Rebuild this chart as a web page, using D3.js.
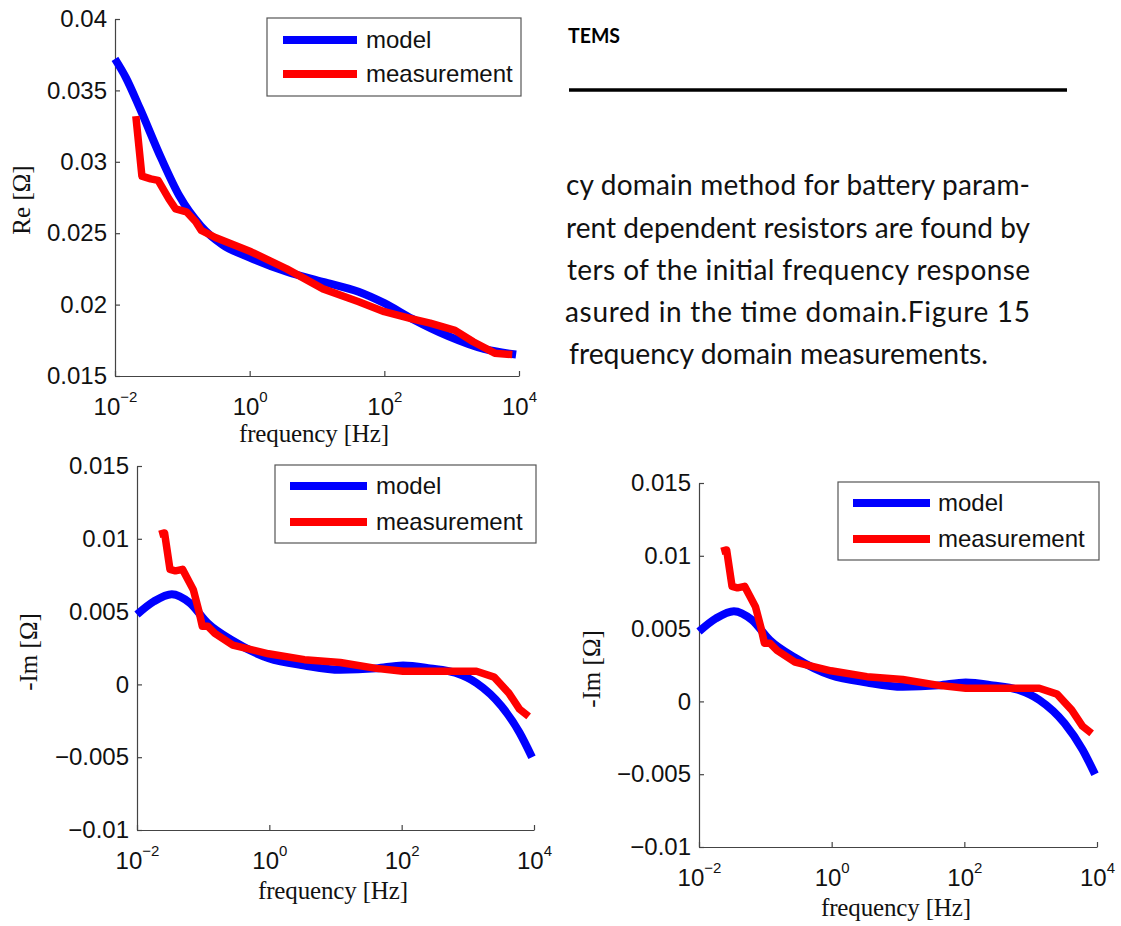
<!DOCTYPE html>
<html>
<head>
<meta charset="utf-8">
<script src="https://cdn.jsdelivr.net/npm/d3@7"></script>
<style>
  body { margin: 0; background: #fff; }
  .tick text { font-family: "Liberation Sans", Arial, sans-serif; fill: #111; }
  .ylab, .xlab { font-family: "Liberation Serif", "DejaVu Serif", serif; fill: #111; }
  .leg { font-family: "Liberation Sans", Arial, sans-serif; font-size: 24px; fill: #111; }
  .para { font-family: Lato, "Open Sans", sans-serif; font-size: 28px; fill: #111; }
</style>
</head>
<body>
<div id="chart"></div>
<script>
// DATA (frequency in Hz)
const reFreqModel = [0.01, 0.0145, 0.0236, 0.0491, 0.0906, 0.189, 0.394, 1.0, 3.57, 12.2, 41.4, 100, 260, 885, 3010, 9060]
const reModel     = [0.0372, 0.0359, 0.0337, 0.0302, 0.0276, 0.0255, 0.0242, 0.0233, 0.0223, 0.0216, 0.0209, 0.0201, 0.0190, 0.0178, 0.0169, 0.0165]
const reFreqMeas  = [0.0204, 0.0251, 0.0339, 0.0437, 0.0631, 0.0794, 0.115, 0.158, 0.191, 0.309, 1.05, 3.55, 12.3, 41.7, 100, 257, 479, 1122, 2089, 4365, 7943]
const reMeas      = [0.0332, 0.0290, 0.0288, 0.0287, 0.0274, 0.0267, 0.0265, 0.0258, 0.0252, 0.0247, 0.0237, 0.0225, 0.0211, 0.0202, 0.0195, 0.0190, 0.0187, 0.0182, 0.0174, 0.0166, 0.0165]

const imFreqModel = [0.01, 0.018, 0.0336, 0.0627, 0.117, 0.28, 0.975, 3.4, 11.8, 41.2, 105, 269, 645, 1350, 3240, 6030, 9330]
const imModel     = [0.0048, 0.0057, 0.0062, 0.0056, 0.0042, 0.0030, 0.0018, 0.0013, 0.0010, 0.0011, 0.0013, 0.0011, 0.0008, 0.0001, -0.0015, -0.0033, -0.0050]
const imFreqMeas  = [0.0217, 0.0261, 0.0315, 0.038, 0.0488, 0.071, 0.0855, 0.0969, 0.117, 0.15, 0.28, 0.975, 3.4, 11.8, 41.2, 105, 500, 1350, 2500, 4170, 6030, 8300]
const imMeas      = [0.0103, 0.0104, 0.0079, 0.0078, 0.0079, 0.0065, 0.0051, 0.0040, 0.0040, 0.0035, 0.0027, 0.0021, 0.0017, 0.0015, 0.0011, 0.0009, 0.0009, 0.0009, 0.0005, -0.0006, -0.0017, -0.0022]

const freqTicks  = [0.01, 1, 100, 10000]
const freqExp    = ['-2', '0', '2', '4']
const reTicks    = [0.015, 0.02, 0.025, 0.03, 0.035, 0.04]
const reTickText = ['0.015', '0.02', '0.025', '0.03', '0.035', '0.04']
const imTicks    = [-0.01, -0.005, 0, 0.005, 0.01, 0.015]
const imTickText = ['\u22120.01', '\u22120.005', '0', '0.005', '0.01', '0.015']
const seriesNames = ['model', 'measurement']
const seriesColours = ['#0000ff', '#ff0000']

const headingText = 'TEMS'
const paraLines = [
  'cy domain method for battery param-',
  'rent dependent resistors are found by',
  'ters of the initial frequency response',
  'asured in the time domain.Figure 15',
  'frequency domain measurements.'
]

const svg = d3.select('#chart').append('svg')
  .attr('width', 1121)
  .attr('height', 926)
  .style('display', 'block')
svg.append('rect').attr('width', 1121).attr('height', 926).attr('fill', '#fff')

// TEXT BLOCK (page behind the plots)
const page = svg.append('g')
page.append('text').text(headingText)
  .attr('x', 568).attr('y', 43)
  .attr('textLength', 52).attr('lengthAdjust', 'spacingAndGlyphs')
  .style('font-family', 'Lato, "Open Sans", sans-serif').style('font-weight', 'bold').style('font-size', '21px')
page.append('line').attr('x1', 569).attr('x2', 1067).attr('y1', 90).attr('y2', 90)
  .attr('stroke', '#000').attr('stroke-width', 3.5)
const paraX  = [566, 566, 567, 565, 569]
const paraX2 = [1030, 1030, 1030, 1030, 988]
const paraY  = [195, 238, 280, 322, 364]
paraLines.forEach((t, i) => {
  page.append('text').attr('class', 'para').text(t)
    .attr('x', paraX[i]).attr('y', paraY[i])
    .attr('textLength', paraX2[i] - paraX[i])
    .attr('lengthAdjust', i < 4 ? 'spacing' : 'spacingAndGlyphs')
})
svg.append('rect').attr('x', 0).attr('y', 85).attr('width', 2).attr('height', 12).attr('fill', '#111')

// PANELS
const PANELS = [
  { L: 115, R: 519, T: 19, B: 376, yDomain: [0.015, 0.04], ticks: reTicks, tickText: reTickText,
    ylabel: 'Re [\u03A9]', ylx: 30, yly: 200, xlx: 314, xly: 442,
    legend: { x0: 267, y0: 18, x1: 521, y1: 96, lx0: 283, lx1: 357, rows: [40, 74], tx: 366 },
    model: [reFreqModel, reModel], meas: [reFreqMeas, reMeas] },
  { L: 137, R: 534, T: 466, B: 830, yDomain: [-0.01, 0.015], ticks: imTicks, tickText: imTickText,
    ylabel: '-Im [\u03A9]', ylx: 37, yly: 652, xlx: 333, xly: 899,
    legend: { x0: 275, y0: 465, x1: 536, y1: 543, lx0: 290, lx1: 367, rows: [486, 522], tx: 376 },
    model: [imFreqModel, imModel], meas: [imFreqMeas, imMeas] },
  { L: 699, R: 1097, T: 483, B: 847, yDomain: [-0.01, 0.015], ticks: imTicks, tickText: imTickText,
    ylabel: '-Im [\u03A9]', ylx: 600, yly: 669, xlx: 896, xly: 916,
    legend: { x0: 838, y0: 482, x1: 1099, y1: 560, lx0: 853, lx1: 930, rows: [503, 539], tx: 938 },
    model: [imFreqModel, imModel], meas: [imFreqMeas, imMeas] }
]

function drawPanel(p) {
  const g = svg.append('g')
  const x = d3.scaleLog().domain([0.01, 10000]).range([p.L, p.R])
  const y = d3.scaleLinear().domain(p.yDomain).range([p.B, p.T])

  // white image background covering the page text
  if (p === PANELS[0]) g.append('rect').attr('x', 0).attr('y', 0).attr('width', 565).attr('height', 455).attr('fill', '#fff')

  // AXES
  const gy = g.append('g').attr('transform', `translate(${p.L},0)`)
    .call(d3.axisLeft(y).tickValues(p.ticks).tickSizeInner(-5).tickSizeOuter(0).tickPadding(8)
      .tickFormat((d, i) => p.tickText[i]))
  gy.selectAll('text').style('font-size', '24px')
  const gx = g.append('g').attr('transform', `translate(0,${p.B})`)
    .call(d3.axisBottom(x).tickValues(freqTicks).tickSizeInner(-5).tickSizeOuter(0).tickFormat(''))
  gx.selectAll('.tick').each(function (d, i) {
    const t = d3.select(this).append('text')
      .attr('y', 39).attr('text-anchor', 'middle')
      .style('font-size', '24px').attr('fill', '#111')
    t.append('tspan').text('10')
    t.append('tspan').text(freqExp[i].replace('-', '\u2212')).attr('dy', -13).style('font-size', '15px')
  })
  g.selectAll('.domain, .tick line').attr('stroke', '#444').attr('stroke-width', 1.2)

  // LABELS
  g.append('text').attr('class', 'ylab').text(p.ylabel)
    .attr('text-anchor', 'middle').style('font-size', '25px')
    .attr('transform', `translate(${p.ylx},${p.yly}) rotate(-90)`)
  g.append('text').attr('class', 'xlab').text('frequency [Hz]')
    .attr('x', p.xlx).attr('y', p.xly).attr('text-anchor', 'middle')
    .attr('textLength', 150).attr('lengthAdjust', 'spacing')
    .style('font-size', '25px')

  // LINES
  const line = d3.line().x(d => x(d[0])).y(d => y(d[1]))
  const modelPts = d3.zip(p.model[0], p.model[1])
  const measPts = d3.zip(p.meas[0], p.meas[1])
  g.append('path').attr('d', line.curve(d3.curveMonotoneX)(modelPts))
    .attr('fill', 'none').attr('stroke', seriesColours[0]).attr('stroke-width', 8).attr('stroke-linejoin', 'round')
  g.append('path').attr('d', line.curve(d3.curveLinear)(measPts))
    .attr('fill', 'none').attr('stroke', seriesColours[1]).attr('stroke-width', 7.5).attr('stroke-linejoin', 'round')

  // LEGEND
  const lg = p.legend
  g.append('rect').attr('x', lg.x0).attr('y', lg.y0).attr('width', lg.x1 - lg.x0).attr('height', lg.y1 - lg.y0)
    .attr('fill', '#fff').attr('stroke', '#555').attr('stroke-width', 1.2)
  seriesNames.forEach((name, i) => {
    g.append('line').attr('x1', lg.lx0).attr('x2', lg.lx1).attr('y1', lg.rows[i]).attr('y2', lg.rows[i])
      .attr('stroke', seriesColours[i]).attr('stroke-width', 8)
    g.append('text').attr('class', 'leg').text(name).attr('x', lg.tx).attr('y', lg.rows[i] + 8)
  })
}
PANELS.forEach(drawPanel)
</script>
</body>
</html>
